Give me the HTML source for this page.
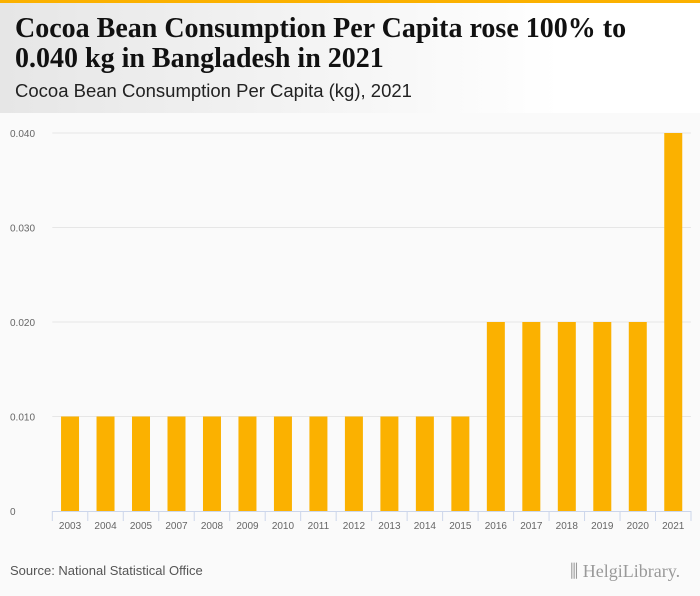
<!DOCTYPE html>
<html><head><meta charset="utf-8"><style>
body{margin:0;width:700px;height:596px;background:#fafafa;font-family:"Liberation Sans",sans-serif;overflow:hidden;position:relative}
#top{position:absolute;left:0;top:0;width:700px;height:3px;background:#fbb100}
#hdr{position:absolute;left:0;top:3px;width:700px;height:110px;background:linear-gradient(90deg,#e6e6e6,#ffffff 80%)}
#t{position:absolute;left:15px;top:14px;font-family:"Liberation Serif",serif;font-weight:bold;font-size:28px;line-height:30px;color:#111;white-space:nowrap}
#st{position:absolute;left:15px;top:80px;font-size:18.5px;color:#222}
#src{position:absolute;left:10px;top:563px;font-size:13px;color:#555}
#logo{position:absolute;left:570px;top:561px;font-family:"Liberation Serif",serif;font-size:18px;color:#999}
</style></head><body>
<div id="top"></div>
<div id="hdr"></div>
<div id="t">Cocoa Bean Consumption Per Capita rose 100% to<br>0.040 kg in Bangladesh in 2021</div>
<div id="st">Cocoa Bean Consumption Per Capita (kg), 2021</div>
<svg id="c" width="700" height="596" style="position:absolute;left:0;top:0"></svg>
<div id="src">Source: National Statistical Office</div>
<div id="logo">⫼ HelgiLibrary.</div>
<script>
const categories=["2003","2004","2005","2007","2008","2009","2010","2011","2012","2013","2014","2015","2016","2017","2018","2019","2020","2021"];
const values=[0.01,0.01,0.01,0.01,0.01,0.01,0.01,0.01,0.01,0.01,0.01,0.01,0.02,0.02,0.02,0.02,0.02,0.04];
const yTicks=[0,0.01,0.02,0.03,0.04];
const yTickLabels=["0","0.010","0.020","0.030","0.040"];
const svg=document.getElementById('c');const NS='http://www.w3.org/2000/svg';
const x0=52.3,x1=691,yB=511,yT=133;
const band=(x1-x0)/categories.length;
const y=v=>yB-(v/0.04)*(yB-yT);
const xc=i=>x0+band*(i+0.5);
function mk(t,a){const e=document.createElementNS(NS,t);for(const k in a)e.setAttribute(k,a[k]);svg.appendChild(e);return e;}
yTicks.forEach((v,i)=>{
 if(v>0){const g=mk('line',{x1:x0,x2:x1,y1:y(v),y2:y(v),stroke:'#e6e6e6'});
 
 }
 const t=mk('text',{x:10,y:y(v)+4,'font-size':'10','fill':'#666','font-family':'Liberation Sans'});
 t.textContent=yTickLabels[i];
 
 
});
values.forEach((v,i)=>{
 const r=mk('rect',{x:xc(i)-9,y:y(v),width:18,height:yB-y(v),fill:'#fbb100'});
 
 
 const t=mk('text',{x:xc(i),y:529,'font-size':'10','fill':'#666','text-anchor':'middle','font-family':'Liberation Sans'});
 t.textContent=categories[i];
 
 
});
const ax=mk('line',{x1:x0,x2:x1,y1:yB+0.5,y2:yB+0.5,stroke:'#ccd6eb'});


for(let i=0;i<=categories.length;i++){
 const tk=mk('line',{x1:x0+band*i,x2:x0+band*i,y1:yB,y2:yB+10,stroke:'#ccd6eb'});
 
 
}
</script>
</body></html>
